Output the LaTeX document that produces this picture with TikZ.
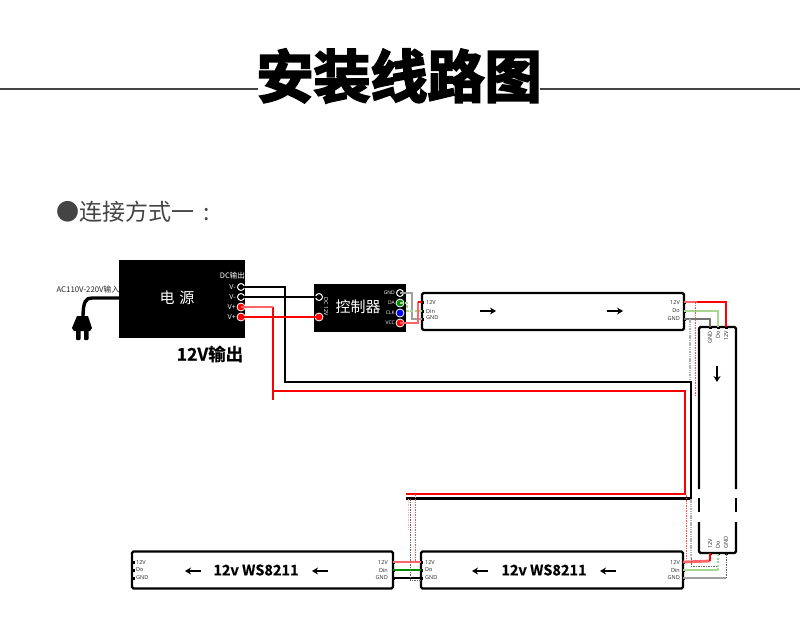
\documentclass[tikz,border=0pt]{standalone}
\usepackage{fontspec}
\setmainfont{Noto Sans CJK SC}
\newfontfamily\titlefont[FakeBold=3.5]{Noto Sans CJK SC Bold}
\newfontfamily\boldcjk{Noto Sans CJK SC Bold}
\newfontfamily\boldlatin[FakeBold=0.6]{Noto Sans CJK SC Bold}
\newfontfamily\labelfont{Open Sans}
\usetikzlibrary{arrows.meta}
\definecolor{softred}{HTML}{FF6468}
\definecolor{softgreen}{HTML}{A8D890}
\definecolor{softgrey}{HTML}{A0A0A0}
\definecolor{rulegrey}{HTML}{444444}
\tikzset{
  x=1pt,y=-1pt,
  blackbox/.style={fill=black,draw=none,inner sep=0pt,text=white},
  stripbox/.style={draw=black,line width=2.2pt,fill=white,rounded corners=1.5pt,inner sep=0pt},
  tiny label/.style={font=\labelfont\fontsize{5.5}{6}\selectfont,text=black!85,inner sep=0pt},
  white label/.style={font=\labelfont\fontsize{5.5}{6}\selectfont,text=white,inner sep=0pt},
  strip title/.style={font=\boldlatin\fontsize{14.5}{15}\selectfont,inner sep=0pt},
  ring/.style={circle,draw=white,fill=black,line width=1pt,minimum size=7pt,inner sep=0pt},
  dotred/.style={circle,draw=white,fill=red,line width=.8pt,minimum size=8pt,inner sep=0pt},
  dotgreen/.style={circle,draw=white,fill=green!55!black,line width=.8pt,minimum size=8pt,inner sep=0pt},
  dotblue/.style={circle,draw=white,fill=blue,line width=.8pt,minimum size=8pt,inner sep=0pt},
  pin/.style={fill=black,inner sep=0pt,minimum width=3pt,minimum height=3pt},
  redwire/.style={draw=red,line width=2.5pt},
  softredwire/.style={draw=softred,line width=2.8pt},
  blackwire/.style={draw=black,line width=2.4pt},
  softgreenwire/.style={draw=softgreen,line width=1.5pt},
  greywire/.style={draw=softgrey,line width=1.5pt},
  dashline/.style={draw=black!60,line width=.6pt,dash pattern=on 1.5pt off 1pt},
  reddash/.style={draw=red!70,line width=.6pt,dash pattern=on 1.5pt off 1pt},
  greydots/.style={draw=black!30,line width=1.5pt,dash pattern=on 1.5pt off .8pt},
  flow/.style={-{Stealth[length=6pt,width=7pt]},line width=2pt,draw=black},
}
\begin{document}
\begin{tikzpicture}
\useasboundingbox (0,0) rectangle (800,638);
\fill[white] (0,0) rectangle (800,638);

% title
\coordinate (ruleL0) at (0,89); \coordinate (ruleL1) at (258,89);
\coordinate (ruleR0) at (540,89); \coordinate (ruleR1) at (800,89);
\draw[rulegrey,line width=1.8pt] (ruleL0) -- (ruleL1);
\draw[rulegrey,line width=1.8pt] (ruleR0) -- (ruleR1);
\node[inner sep=0pt,font=\titlefont\fontsize{57}{60}\selectfont] (title) at (399,76) {安装线路图};
\node[anchor=west,inner sep=0pt,text=rulegrey,font=\fontsize{23}{26}\selectfont] (sub) at (56,212) {●连接方式一\hspace{9pt}:};

% boxes
\node[blackbox,minimum width=126pt,minimum height=78pt] (psu) at (182,299) {};
\node[blackbox,minimum width=92pt,minimum height=48pt] (ctrl) at (360,308) {};
\node[stripbox,minimum width=262pt,minimum height=37pt] (s1) at (553,311.5) {};
\node[stripbox,minimum width=262pt,minimum height=37pt] (s2) at (552,570) {};
\node[stripbox,minimum width=261pt,minimum height=37pt] (s3) at (262.5,570) {};

% vertical strip: white body with broken sides
\coordinate (vTL) at (699,327); \coordinate (vTR) at (736,327);
\coordinate (vBL) at (699,553); \coordinate (vBR) at (736,553);
\draw[black,line width=2.2pt,rounded corners=1.5pt] (699,489) -- (vTL) -- (vTR) -- (736,489);
\draw[black,line width=2.2pt,rounded corners=1.5pt] (699,522) -- (vBL) -- (vBR) -- (736,522);
\draw[black,line width=2.2pt] (699,498) -- (699,512);
\draw[black,line width=2.2pt] (736,498) -- (736,512);

% ports on the power supply and controller
\node[ring] (pa) at (241,287) {};
\node[ring] (pb) at (241,297) {};
\node[dotred] (pc) at (241,307) {};
\node[dotred] (pd) at (241,317) {};
\node[ring] (ci) at (319,297) {};
\node[dotred] (cj) at (319,317) {};
\node[ring] (cg) at (400,293) {};
\node[dotgreen] (cd) at (400,303) {};
\node[dotblue] (cc) at (400,313) {};
\node[dotred] (cv) at (400,323) {};

% pins on strips
\foreach \n/\y in {a/302,b/311,c/319}{
  \node[pin] (s1l\n) at (422,\y) {};
  \node[pin] (s1r\n) at (684,\y) {};
}
\foreach \n/\y in {a/562,b/570,c/578}{
  \node[pin] (s2l\n) at (421,\y) {};
  \node[pin] (s2r\n) at (683,\y) {};
  \node[pin] (s3l\n) at (133,\y) {};
  \node[pin] (s3r\n) at (393,\y) {};
}
\foreach \n/\x in {a/710,b/718,c/726}{
  \node[pin] (vt\n) at (\x,327) {};
  \node[pin] (vb\n) at (\x,553) {};
}

% main feed wires
\coordinate (k1) at (285,382); \coordinate (k2) at (691,382); \coordinate (k3) at (691,498.5); \coordinate (k4) at (406,498.5);
\draw[blackwire] (pa.center) -| (k1) -- (k2) -- (k3) -- (k4);
\coordinate (r1) at (273,391); \coordinate (r2) at (685,391); \coordinate (r3) at (685,494); \coordinate (r4) at (406,494);
\coordinate (r5) at (273,307);
\draw[redwire] (r5) -- (r1) -- (r2) -- (r3) -- (r4);
\coordinate (r0) at (273,400);
\draw[redwire] (r1) -- (r0);
\draw[softredwire] (pc.center) -- (r5);
\draw[blackwire] (pb.center) -- (ci.center);
\draw[redwire] (pd.center) -- (cj.center);

% controller to strip 1
\coordinate (g1) at (412,293); \coordinate (g2) at (412,319);
\draw[greywire] (cg.center) -- (g1) -- (g2) -- (s1lc.center);
\coordinate (d1) at (407,303); \coordinate (d2) at (407,311);
\draw[softgreenwire,dash pattern=on 3pt off 1.5pt] (cd.center) -- (d1) -- (d2) -- (s1lb.center);
\coordinate (v1) at (418,323); \coordinate (v2) at (418,302);
\draw[softredwire] (cv.center) -- (v1) -- (v2);
\draw[redwire] (v2) -- (s1la.center);

% strip 1 to vertical strip
\coordinate (t1) at (726,302); \coordinate (t2) at (718,311); \coordinate (t3) at (710,319);
\draw[softredwire] (s1ra.center) -- (697,302);
\draw[redwire] (697,302) -- (t1) -- (vtc.center);
\draw[softgreenwire] (s1rb.center) -- (t2) -- (vtb.center);
\draw[draw=black!55,line width=1.3pt] (s1rc.center) -- (t3) -- (vta.center);
\coordinate (u0) at (690,319); \coordinate (u1) at (690,381);
\draw[greydots] (u0) -- (u1);
\coordinate (w0) at (695,302); \coordinate (w1) at (695,395);
\draw[reddash] (w0) -- (w1);

% vertical strip to strip 2
\coordinate (b1) at (710,561); \coordinate (b2) at (718,570); \coordinate (b3) at (726,578);
\draw[softredwire] (s2ra.center) -- (b1);
\draw[redwire] (b1) -- (vba.center);
\draw[softgreenwire] (s2rb.center) -- (b2);
\draw[softgreenwire,dash pattern=on 2pt off 1.5pt] (b2) -- (vbb.center);
\draw[greywire] (s2rc.center) -- (b3);
\draw[dashline] (b3) -- (vbc.center);
\coordinate (x0) at (691,499); \coordinate (x1) at (691,558); \coordinate (x3) at (691,566); \coordinate (x2) at (718,566);
\draw[greydots] (x0) -- (x1);
\draw[dashline] (x1) -- (x3) -- (x2);
\coordinate (y0) at (686,495); \coordinate (y1) at (686,560);
\draw[reddash] (y0) -- (y1);

% strip 2 to strip 3
\draw[softredwire] (s3ra.center) -- (s2la.center);
\draw[draw=green!55!black,line width=2.2pt] (s3rb.center) -- (s2lb.center);
\draw[blackwire] (s3rc.center) -- (s2lc.center);
\coordinate (z0) at (410,499); \coordinate (z1) at (410,580); \coordinate (z2) at (421,580);
\draw[dashline] (z0) -- (z1) -- (z2);
\coordinate (q0) at (415,494); \coordinate (q1) at (415,561);
\draw[reddash] (q0) -- (q1);
\coordinate (p0) at (408,499); \coordinate (p1) at (408,530);
\draw[draw=softred!50,line width=.6pt,dash pattern=on 1.5pt off 1pt] (p0) -- (p1);

% mains plug
\coordinate (cord0) at (120,298); \coordinate (cord1) at (83,318);
\draw[black,line width=3.4pt] (cord0) -- (92,298) .. controls (86,298) and (83,301) .. (cord1);
\fill[black] (77,316) -- (88,316) -- (92,328) -- (90,331) -- (74,331) -- (72,328) -- cycle;
\fill[black,rounded corners=.8pt] (76,329) rectangle (80.5,340);
\fill[black,rounded corners=.8pt] (84,329) rectangle (88.5,340);

% labels on the power supply
\node[inner sep=0pt,text=white,font=\fontsize{15}{16}\selectfont] (psut) at (177,298) {电\hspace{5pt}源};
\node[anchor=east,inner sep=0pt,text=white,font=\fontsize{7.5}{8}\selectfont] (dcl) at (245,276) {DC输出};
\foreach \n/\t/\y in {a/V-/287,b/V-/297,c/V+/307,d/V+/317}{
  \node[anchor=east,inner sep=0pt,text=white,font=\labelfont\fontsize{7}{8}\selectfont] (pl\n) at (236,\y) {\t};
}
\node[anchor=east,inner sep=0pt,text=black!85,font=\fontsize{7.8}{8}\selectfont] (acl) at (119.5,290) {AC110V-220V输入};
\node[inner sep=0pt,font=\boldlatin\fontsize{17.5}{18}\selectfont,text=black] (out) at (210,354) {12V输出};

% labels on the controller
\node[inner sep=0pt,text=white,font=\fontsize{15}{16}\selectfont] (ctrlt) at (358,307) {控制器};
\node[white label,rotate=-90] (dc12) at (326,307) {DC 12V};
\foreach \n/\t/\y in {a/GND/293,b/DA/303,c/CLK/313,d/VCC/323}{
  \node[white label,anchor=east,font=\labelfont\fontsize{5}{6}\selectfont] (cl\n) at (395,\y) {\t};
}

% strip 1 labels
\foreach \n/\t/\y in {a/12V/302,b/Din/311,c/GND/318}{
  \node[tiny label,anchor=west] (sa\n) at (426,\y) {\t};
}
\foreach \n/\t/\y in {a/12V/302,b/Do/311,c/GND/319}{
  \node[tiny label,anchor=east] (sb\n) at (680,\y) {\t};
}
\coordinate (a1s) at (480,311); \coordinate (a1e) at (496,311);
\draw[flow] (a1s) -- (a1e);
\coordinate (a2s) at (607,311); \coordinate (a2e) at (623,311);
\draw[flow] (a2s) -- (a2e);

% vertical strip labels
\foreach \n/\t/\x in {a/GND/710,b/Do/718,c/12V/726}{
  \node[tiny label,rotate=90,anchor=east] (vl\n) at (\x,331) {\t};
}
\foreach \n/\t/\x in {a/12V/710,b/Do/718,c/GND/726}{
  \node[tiny label,rotate=90,anchor=west] (vm\n) at (\x,549) {\t};
}
\coordinate (a3s) at (717,366); \coordinate (a3e) at (717,382);
\draw[flow] (a3s) -- (a3e);

% strip 2 and 3 labels
\foreach \s/\xa/\xb/\xt/\xr/\xq in {s2/425/680/544/472/600,s3/136/388/256/185/312}{
  \node[tiny label,anchor=west] (\s la) at (\xa,562) {12V};
  \node[tiny label,anchor=west] (\s lb) at (\xa,570) {Do};
  \node[tiny label,anchor=west] (\s lc) at (\xa,578) {GND};
  \node[tiny label,anchor=east] (\s ra) at (\xb,562) {12V};
  \node[tiny label,anchor=east] (\s rb) at (\xb,570) {Din};
  \node[tiny label,anchor=east] (\s rc) at (\xb,578) {GND};
  \node[strip title] (\s t) at (\xt,570) {12v WS8211};
  \draw[flow] (\xr+16,571) -- (\xr,571);
  \draw[flow] (\xq+16,571) -- (\xq,571);
}
\end{tikzpicture}
\end{document}
